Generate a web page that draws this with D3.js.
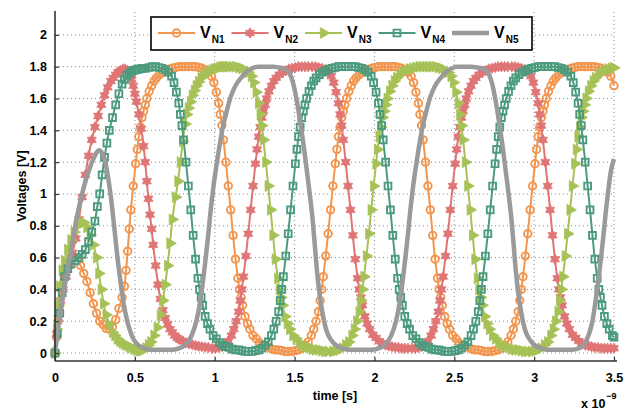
<!DOCTYPE html>
<html>
<head>
<meta charset="utf-8">
<script src="https://cdn.jsdelivr.net/npm/d3@7"></script>
<style>
  body { margin: 0; background: #fff; }
  svg text { font-family: "Liberation Sans", Arial, sans-serif; font-weight: bold; fill: #000; }
</style>
</head>
<body>
<svg id="chart" width="641" height="411"></svg>
<script>
// ring oscillator node voltages, time in ns, voltage in V

const xTicks = [0, 0.5, 1, 1.5, 2, 2.5, 3, 3.5];
const yTicks = [0, 0.2, 0.4, 0.6, 0.8, 1, 1.2, 1.4, 1.6, 1.8, 2];
const seriesNames = ["N1", "N2", "N3", "N4", "N5"];

const vN1 = [
  [0,0],[0.01,0.1],[0.02,0.2],[0.03,0.3],[0.045,0.42],[0.06,0.5],[0.08,0.56],[0.1,0.6],[0.12,0.6],[0.14,0.58],
  [0.16,0.55],[0.18,0.5],[0.2,0.45],[0.22,0.38],[0.24,0.31],[0.26,0.25],[0.28,0.2],[0.3,0.18],[0.32,0.155],[0.34,0.15],
  [0.36,0.165],[0.38,0.21],[0.4,0.28],[0.42,0.35],[0.435,0.42],[0.445,0.52],[0.455,0.64],[0.465,0.78],[0.475,0.9],
  [0.49,1.05],[0.505,1.19],[0.515,1.28],[0.525,1.36],[0.535,1.42],[0.545,1.48],[0.555,1.52],[0.565,1.56],[0.575,1.6],
  [0.59,1.645],[0.605,1.68],[0.62,1.71],[0.635,1.73],[0.655,1.75],[0.675,1.765],[0.695,1.775],[0.715,1.785],[0.735,1.79],
  [0.755,1.795],[0.775,1.8],[0.795,1.8],[0.815,1.8],[0.835,1.8],
  [0.86,1.8],[0.88,1.8],[0.9,1.795],[0.92,1.79],[0.94,1.78],[0.96,1.765],[0.98,1.74],[0.995,1.7],[1.01,1.64],[1.025,1.57],
  [1.035,1.5],[1.045,1.43],[1.055,1.34],[1.07,1.2],[1.085,1.05],[1.1,0.9],[1.115,0.74],[1.13,0.59],[1.145,0.47],[1.155,0.4],
  [1.165,0.35],[1.175,0.3],[1.19,0.23],[1.205,0.185],[1.22,0.15],[1.24,0.11],[1.26,0.09],[1.28,0.065],[1.3,0.05],[1.32,0.04],
  [1.34,0.035],[1.36,0.025],[1.38,0.02],[1.4,0.02],[1.42,0.015],[1.44,0.01],[1.46,0.01],
  [1.485,0.01],[1.505,0.015],[1.525,0.02],[1.545,0.03],[1.565,0.05],[1.585,0.07],[1.605,0.11],[1.62,0.15],[1.635,0.2],
  [1.65,0.26],[1.66,0.33],[1.67,0.4],[1.68,0.48],[1.695,0.61],[1.71,0.75],[1.725,0.9],[1.74,1.05],[1.755,1.19],[1.765,1.28],
  [1.775,1.36],[1.785,1.42],[1.795,1.48],[1.805,1.52],[1.815,1.56],[1.825,1.6],[1.84,1.645],[1.855,1.68],[1.87,1.71],
  [1.885,1.73],[1.905,1.75],[1.925,1.765],[1.945,1.775],[1.965,1.785],[1.985,1.79],[2.005,1.795],[2.025,1.8],[2.045,1.8],
  [2.065,1.8],[2.085,1.8],
  [2.11,1.8],[2.13,1.8],[2.15,1.795],[2.17,1.79],[2.19,1.78],[2.21,1.765],[2.23,1.74],[2.245,1.7],[2.26,1.64],[2.275,1.57],
  [2.285,1.5],[2.295,1.43],[2.305,1.34],[2.32,1.2],[2.335,1.05],[2.35,0.9],[2.365,0.74],[2.38,0.59],[2.395,0.47],[2.405,0.4],
  [2.415,0.35],[2.425,0.3],[2.44,0.23],[2.455,0.185],[2.47,0.15],[2.49,0.11],[2.51,0.09],[2.53,0.065],[2.55,0.05],[2.57,0.04],
  [2.59,0.035],[2.61,0.025],[2.63,0.02],[2.65,0.02],[2.67,0.015],[2.69,0.01],[2.71,0.01],
  [2.735,0.01],[2.755,0.015],[2.775,0.02],[2.795,0.03],[2.815,0.05],[2.835,0.07],[2.855,0.11],[2.87,0.15],[2.885,0.2],
  [2.9,0.26],[2.91,0.33],[2.92,0.4],[2.93,0.48],[2.945,0.61],[2.96,0.75],[2.975,0.9],[2.99,1.05],[3.005,1.19],[3.015,1.28],
  [3.025,1.36],[3.035,1.42],[3.045,1.48],[3.055,1.52],[3.065,1.56],[3.075,1.6],[3.09,1.645],[3.105,1.68],[3.12,1.71],
  [3.135,1.73],[3.155,1.75],[3.175,1.765],[3.195,1.775],[3.215,1.785],[3.235,1.79],[3.255,1.795],[3.275,1.8],[3.295,1.8],
  [3.315,1.8],[3.335,1.8],
  [3.36,1.8],[3.38,1.8],[3.4,1.795],[3.42,1.79],[3.44,1.78],[3.46,1.765],[3.48,1.74],[3.5,1.68]
];

const vN2 = [
  [0,0],[0.01,0.12],[0.02,0.22],[0.035,0.33],[0.05,0.4],[0.07,0.48],[0.09,0.55],[0.11,0.63],[0.13,0.72],[0.15,0.84],
  [0.17,0.98],[0.19,1.12],[0.21,1.24],[0.23,1.34],[0.25,1.42],[0.27,1.49],[0.29,1.56],[0.31,1.62],[0.33,1.67],[0.35,1.71],
  [0.365,1.73],[0.38,1.75],[0.395,1.765],[0.41,1.775],[0.425,1.785],[0.44,1.785],[0.455,1.775],[0.47,1.75],[0.48,1.72],
  [0.49,1.68],[0.5,1.63],[0.51,1.58],[0.525,1.5],[0.54,1.41],[0.555,1.3],[0.565,1.2],[0.575,1.08],[0.585,0.97],[0.595,0.87],
  [0.605,0.78],[0.615,0.68],[0.63,0.55],[0.645,0.43],[0.66,0.34],[0.675,0.27],[0.69,0.22],[0.705,0.18],[0.72,0.15],
  [0.735,0.13],[0.75,0.11],[0.765,0.095],[0.78,0.085],[0.8,0.075],[0.82,0.065],[0.84,0.058],[0.86,0.052],[0.88,0.047],
  [0.9,0.043],[0.92,0.04],[0.94,0.037],[0.96,0.035],
  [0.985,0.03],[1.005,0.03],[1.025,0.035],[1.045,0.04],[1.065,0.055],[1.085,0.075],[1.105,0.11],[1.12,0.15],[1.135,0.2],
  [1.15,0.26],[1.16,0.33],[1.17,0.4],[1.18,0.48],[1.195,0.61],[1.21,0.75],[1.225,0.9],[1.24,1.05],[1.255,1.19],[1.265,1.28],
  [1.275,1.36],[1.285,1.42],[1.295,1.48],[1.305,1.52],[1.315,1.56],[1.325,1.6],[1.34,1.645],[1.355,1.68],[1.37,1.71],
  [1.385,1.73],[1.405,1.75],[1.425,1.765],[1.445,1.775],[1.465,1.785],[1.485,1.79],[1.505,1.795],[1.525,1.8],[1.545,1.8],
  [1.565,1.8],[1.585,1.8],
  [1.61,1.8],[1.63,1.8],[1.65,1.795],[1.67,1.79],[1.69,1.78],[1.71,1.765],[1.73,1.74],[1.745,1.7],[1.76,1.64],[1.775,1.57],
  [1.785,1.5],[1.795,1.43],[1.805,1.34],[1.82,1.2],[1.835,1.05],[1.85,0.9],[1.865,0.74],[1.88,0.59],[1.895,0.47],[1.905,0.4],
  [1.915,0.35],[1.925,0.3],[1.94,0.23],[1.955,0.185],[1.97,0.15],[1.99,0.115],[2.01,0.095],[2.03,0.075],[2.05,0.06],
  [2.07,0.05],[2.09,0.045],[2.11,0.04],[2.13,0.035],[2.15,0.035],[2.17,0.03],[2.19,0.03],[2.21,0.03],
  [2.235,0.03],[2.255,0.03],[2.275,0.035],[2.295,0.04],[2.315,0.055],[2.335,0.075],[2.355,0.11],[2.37,0.15],[2.385,0.2],
  [2.4,0.26],[2.41,0.33],[2.42,0.4],[2.43,0.48],[2.445,0.61],[2.46,0.75],[2.475,0.9],[2.49,1.05],[2.505,1.19],[2.515,1.28],
  [2.525,1.36],[2.535,1.42],[2.545,1.48],[2.555,1.52],[2.565,1.56],[2.575,1.6],[2.59,1.645],[2.605,1.68],[2.62,1.71],
  [2.635,1.73],[2.655,1.75],[2.675,1.765],[2.695,1.775],[2.715,1.785],[2.735,1.79],[2.755,1.795],[2.775,1.8],[2.795,1.8],
  [2.815,1.8],[2.835,1.8],
  [2.86,1.8],[2.88,1.8],[2.9,1.795],[2.92,1.79],[2.94,1.78],[2.96,1.765],[2.98,1.74],[2.995,1.7],[3.01,1.64],[3.025,1.57],
  [3.035,1.5],[3.045,1.43],[3.055,1.34],[3.07,1.2],[3.085,1.05],[3.1,0.9],[3.115,0.74],[3.13,0.59],[3.145,0.47],[3.155,0.4],
  [3.165,0.35],[3.175,0.3],[3.19,0.23],[3.205,0.185],[3.22,0.15],[3.24,0.115],[3.26,0.095],[3.28,0.075],[3.3,0.06],
  [3.32,0.05],[3.34,0.045],[3.36,0.04],[3.38,0.035],[3.4,0.035],[3.42,0.03],[3.44,0.03],[3.46,0.03],[3.48,0.03],[3.5,0.03]
];

const vN3 = [
  [0,0],[0.01,0.15],[0.02,0.3],[0.03,0.42],[0.045,0.52],[0.06,0.58],[0.08,0.65],[0.1,0.71],[0.12,0.76],[0.14,0.8],
  [0.16,0.82],[0.18,0.82],[0.2,0.79],[0.22,0.74],[0.24,0.68],[0.26,0.6],[0.275,0.5],[0.29,0.4],[0.305,0.31],[0.32,0.24],
  [0.34,0.18],[0.36,0.13],[0.375,0.11],[0.39,0.09],[0.405,0.075],[0.42,0.065],[0.435,0.055],[0.45,0.05],[0.465,0.04],
  [0.48,0.035],[0.495,0.025],[0.51,0.02],[0.525,0.015],[0.54,0.015],[0.555,0.02],[0.57,0.03],[0.585,0.05],[0.6,0.07],
  [0.62,0.11],[0.64,0.16],[0.66,0.24],[0.675,0.33],[0.69,0.43],[0.705,0.55],[0.72,0.69],[0.735,0.84],[0.755,0.98],
  [0.77,1.08],[0.785,1.2],[0.8,1.33],[0.815,1.44],[0.825,1.5],[0.835,1.54],[0.848,1.58],[0.86,1.62],[0.873,1.65],
  [0.885,1.68],[0.9,1.705],[0.915,1.73],[0.93,1.745],[0.95,1.76],[0.97,1.772],[0.985,1.78],[1.0,1.785],[1.015,1.79],
  [1.03,1.795],[1.045,1.8],[1.06,1.8],[1.075,1.8],[1.09,1.8],
  [1.11,1.8],[1.13,1.8],[1.15,1.795],[1.17,1.79],[1.19,1.78],[1.21,1.765],[1.23,1.74],[1.245,1.7],[1.26,1.64],[1.275,1.57],
  [1.285,1.5],[1.295,1.43],[1.305,1.34],[1.32,1.2],[1.335,1.05],[1.35,0.9],[1.365,0.74],[1.38,0.59],[1.395,0.47],[1.405,0.4],
  [1.415,0.35],[1.425,0.3],[1.44,0.23],[1.455,0.185],[1.47,0.15],[1.49,0.11],[1.51,0.09],[1.53,0.065],[1.55,0.05],[1.57,0.04],
  [1.59,0.035],[1.61,0.025],[1.63,0.02],[1.65,0.02],[1.67,0.015],[1.69,0.01],[1.71,0.01],
  [1.74,0.01],[1.76,0.015],[1.78,0.02],[1.8,0.03],[1.82,0.05],[1.84,0.07],[1.86,0.11],[1.875,0.15],[1.89,0.2],[1.905,0.26],
  [1.915,0.33],[1.925,0.4],[1.935,0.48],[1.95,0.61],[1.965,0.75],[1.98,0.9],[1.995,1.05],[2.01,1.19],[2.02,1.28],[2.03,1.36],
  [2.04,1.42],[2.05,1.48],[2.06,1.52],[2.07,1.56],[2.08,1.6],[2.095,1.645],[2.11,1.68],[2.125,1.71],[2.14,1.73],[2.16,1.75],
  [2.18,1.765],[2.2,1.775],[2.22,1.785],[2.24,1.79],[2.26,1.795],[2.28,1.8],[2.3,1.8],[2.32,1.8],[2.34,1.8],
  [2.36,1.8],[2.38,1.8],[2.4,1.795],[2.42,1.79],[2.44,1.78],[2.46,1.765],[2.48,1.74],[2.495,1.7],[2.51,1.64],[2.525,1.57],
  [2.535,1.5],[2.545,1.43],[2.555,1.34],[2.57,1.2],[2.585,1.05],[2.6,0.9],[2.615,0.74],[2.63,0.59],[2.645,0.47],[2.655,0.4],
  [2.665,0.35],[2.675,0.3],[2.69,0.23],[2.705,0.185],[2.72,0.15],[2.74,0.11],[2.76,0.09],[2.78,0.065],[2.8,0.05],[2.82,0.04],
  [2.84,0.035],[2.86,0.025],[2.88,0.02],[2.9,0.02],[2.92,0.015],[2.94,0.01],[2.96,0.01],
  [2.985,0.01],[3.005,0.015],[3.025,0.02],[3.045,0.03],[3.065,0.05],[3.085,0.07],[3.105,0.11],[3.12,0.15],[3.135,0.2],
  [3.15,0.26],[3.16,0.33],[3.17,0.4],[3.18,0.48],[3.195,0.61],[3.21,0.75],[3.225,0.9],[3.24,1.05],[3.255,1.19],[3.265,1.28],
  [3.275,1.36],[3.285,1.42],[3.295,1.48],[3.305,1.52],[3.315,1.56],[3.325,1.6],[3.34,1.645],[3.355,1.68],[3.37,1.71],
  [3.385,1.73],[3.405,1.75],[3.425,1.765],[3.445,1.775],[3.465,1.785],[3.485,1.79],[3.5,1.793]
];

const vN4 = [
  [0,0],[0.015,0.12],[0.03,0.25],[0.045,0.38],[0.06,0.48],[0.08,0.53],[0.1,0.56],[0.125,0.58],[0.15,0.6],[0.17,0.62],
  [0.19,0.65],[0.21,0.7],[0.23,0.76],[0.25,0.83],[0.265,0.92],[0.28,1.0],[0.295,1.12],[0.31,1.23],[0.325,1.32],
  [0.34,1.4],[0.36,1.48],[0.38,1.56],[0.4,1.63],[0.42,1.69],[0.435,1.72],[0.45,1.745],[0.465,1.76],[0.48,1.77],
  [0.495,1.777],[0.51,1.782],[0.525,1.785],[0.54,1.788],[0.555,1.79],[0.57,1.79],[0.59,1.795],
  [0.61,1.8],[0.63,1.8],[0.65,1.795],[0.67,1.79],[0.69,1.78],[0.71,1.765],[0.73,1.74],[0.745,1.7],[0.76,1.64],[0.775,1.57],
  [0.785,1.5],[0.795,1.43],[0.805,1.34],[0.82,1.2],[0.835,1.05],[0.85,0.9],[0.865,0.74],[0.88,0.59],[0.895,0.47],[0.905,0.4],
  [0.915,0.35],[0.925,0.3],[0.94,0.23],[0.955,0.185],[0.97,0.15],[0.99,0.11],[1.01,0.09],[1.03,0.065],[1.05,0.05],[1.07,0.04],
  [1.09,0.035],[1.11,0.025],[1.13,0.02],[1.15,0.02],[1.17,0.015],[1.19,0.01],[1.21,0.01],
  [1.235,0.01],[1.255,0.015],[1.275,0.02],[1.295,0.03],[1.315,0.05],[1.335,0.07],[1.355,0.11],[1.37,0.15],[1.385,0.2],
  [1.4,0.26],[1.41,0.33],[1.42,0.4],[1.43,0.48],[1.445,0.61],[1.46,0.75],[1.475,0.9],[1.49,1.05],[1.505,1.19],[1.515,1.28],
  [1.525,1.36],[1.535,1.42],[1.545,1.48],[1.555,1.52],[1.565,1.56],[1.575,1.6],[1.59,1.645],[1.605,1.68],[1.62,1.71],
  [1.635,1.73],[1.655,1.75],[1.675,1.765],[1.695,1.775],[1.715,1.785],[1.735,1.79],[1.755,1.795],[1.775,1.8],[1.795,1.8],
  [1.815,1.8],[1.835,1.8],
  [1.86,1.8],[1.88,1.8],[1.9,1.795],[1.92,1.79],[1.94,1.78],[1.96,1.765],[1.98,1.74],[1.995,1.7],[2.01,1.64],[2.025,1.57],
  [2.035,1.5],[2.045,1.43],[2.055,1.34],[2.07,1.2],[2.085,1.05],[2.1,0.9],[2.115,0.74],[2.13,0.59],[2.145,0.47],[2.155,0.4],
  [2.165,0.35],[2.175,0.3],[2.19,0.23],[2.205,0.185],[2.22,0.15],[2.24,0.11],[2.26,0.09],[2.28,0.065],[2.3,0.05],[2.32,0.04],
  [2.34,0.035],[2.36,0.025],[2.38,0.02],[2.4,0.02],[2.42,0.015],[2.44,0.01],[2.46,0.01],
  [2.485,0.01],[2.505,0.015],[2.525,0.02],[2.545,0.03],[2.565,0.05],[2.585,0.07],[2.605,0.11],[2.62,0.15],[2.635,0.2],
  [2.65,0.26],[2.66,0.33],[2.67,0.4],[2.68,0.48],[2.695,0.61],[2.71,0.75],[2.725,0.9],[2.74,1.05],[2.755,1.19],[2.765,1.28],
  [2.775,1.36],[2.785,1.42],[2.795,1.48],[2.805,1.52],[2.815,1.56],[2.825,1.6],[2.84,1.645],[2.855,1.68],[2.87,1.71],
  [2.885,1.73],[2.905,1.75],[2.925,1.765],[2.945,1.775],[2.965,1.785],[2.985,1.79],[3.005,1.795],[3.025,1.8],[3.045,1.8],
  [3.065,1.8],[3.085,1.8],
  [3.11,1.8],[3.13,1.8],[3.15,1.795],[3.17,1.79],[3.19,1.78],[3.21,1.765],[3.23,1.74],[3.245,1.7],[3.26,1.64],[3.275,1.57],
  [3.285,1.5],[3.295,1.43],[3.305,1.34],[3.32,1.2],[3.335,1.05],[3.35,0.9],[3.365,0.74],[3.38,0.59],[3.395,0.47],[3.405,0.4],
  [3.415,0.35],[3.425,0.3],[3.44,0.23],[3.455,0.185],[3.47,0.15],[3.49,0.11],[3.5,0.1]
];

const vN5 = [
  [0,0],[0.02,0.16],[0.04,0.3],[0.06,0.42],[0.08,0.53],[0.1,0.64],[0.12,0.76],[0.14,0.87],[0.16,0.96],[0.18,1.04],
  [0.2,1.11],[0.22,1.17],[0.24,1.22],[0.26,1.26],[0.275,1.275],[0.29,1.265],[0.31,1.22],[0.33,1.12],[0.35,0.98],
  [0.37,0.8],[0.39,0.61],[0.41,0.45],[0.43,0.31],[0.45,0.21],[0.47,0.14],[0.49,0.09],[0.52,0.05],[0.56,0.03],
  [0.6,0.02],[0.65,0.02],[0.7,0.02],
  [0.735,0.02],[0.775,0.03],[0.815,0.05],[0.855,0.11],[0.885,0.2],[0.91,0.33],[0.93,0.48],[0.945,0.61],[0.96,0.75],
  [0.975,0.9],[0.99,1.03],[1.005,1.14],[1.025,1.27],[1.045,1.39],[1.07,1.5],[1.1,1.61],[1.13,1.68],[1.165,1.73],
  [1.2,1.77],[1.235,1.79],[1.27,1.8],[1.3,1.8],[1.34,1.8],
  [1.37,1.8],[1.4,1.795],[1.43,1.79],[1.46,1.77],[1.49,1.7],[1.515,1.58],[1.54,1.42],[1.56,1.28],[1.58,1.12],[1.595,1.0],
  [1.61,0.87],[1.625,0.7],[1.64,0.52],[1.655,0.38],[1.675,0.25],[1.7,0.14],[1.73,0.08],[1.765,0.045],[1.8,0.03],
  [1.84,0.02],[1.9,0.02],[1.96,0.02],
  [1.985,0.02],[2.025,0.03],[2.065,0.05],[2.105,0.11],[2.135,0.2],[2.16,0.33],[2.18,0.48],[2.195,0.61],[2.21,0.75],
  [2.225,0.9],[2.24,1.03],[2.255,1.14],[2.275,1.27],[2.295,1.39],[2.32,1.5],[2.35,1.61],[2.38,1.68],[2.415,1.73],
  [2.45,1.77],[2.485,1.79],[2.52,1.8],[2.55,1.8],[2.58,1.8],[2.61,1.8],
  [2.645,1.795],[2.675,1.79],[2.705,1.77],[2.735,1.7],[2.76,1.58],[2.785,1.42],[2.805,1.28],[2.825,1.12],[2.84,1.0],
  [2.855,0.87],[2.87,0.7],[2.885,0.52],[2.9,0.38],[2.92,0.25],[2.945,0.14],[2.975,0.08],[3.01,0.045],[3.045,0.03],
  [3.085,0.02],[3.15,0.02],[3.2,0.02],
  [3.24,0.02],[3.28,0.03],[3.31,0.05],[3.34,0.11],[3.365,0.2],[3.385,0.33],[3.405,0.48],[3.42,0.61],[3.435,0.75],
  [3.45,0.9],[3.465,1.03],[3.48,1.14],[3.5,1.22]
];

const seriesData = [vN1, vN2, vN3, vN4, vN5];
const seriesColors = ["#F2964F", "#E07575", "#A6C257", "#4C9B7E", "#9A9A9A"];
const seriesMarkers = ["circle", "hexagram", "triangleRight", "square", null];

const svg = d3.select("#chart");

const x = d3.scaleLinear().domain([0, 3.5]).range([55, 614]);
const y = d3.scaleLinear().domain([-0.05, 2.15]).range([361, 11]);

// six point star
const symbolHexagram = {
  draw(context, size) {
    const R = Math.sqrt(size / 1.3);
    const r = R / Math.sqrt(3);
    for (let i = 0; i < 12; i++) {
      const a = -Math.PI / 2 + i * Math.PI / 6;
      const rr = i % 2 === 0 ? R : r;
      const px = rr * Math.cos(a), py = rr * Math.sin(a);
      if (i === 0) context.moveTo(px, py); else context.lineTo(px, py);
    }
    context.closePath();
  }
};

function markerPath(kind) {
  if (kind === "circle") return d3.symbol(d3.symbolCircle, 44)();
  if (kind === "square") return d3.symbol(d3.symbolSquare, 46)();
  if (kind === "triangleRight") return d3.symbol(d3.symbolTriangle, 52)();
  if (kind === "hexagram") return d3.symbol(symbolHexagram, 36)();
  return null;
}

function markerStyle(sel, kind, color) {
  const open = kind === "circle" || kind === "square";
  sel.attr("d", markerPath(kind))
    .attr("fill", open ? "none" : color)
    .attr("stroke", color)
    .attr("stroke-width", open ? 1.9 : 0.8);
}

function markerTransform(kind, px, py) {
  return kind === "triangleRight"
    ? `translate(${px},${py}) rotate(90)`
    : `translate(${px},${py})`;
}

// grid
const grid = svg.append("g").attr("class", "grid");
grid.selectAll("line.vgrid")
  .data(xTicks.filter(d => d > 0))
  .join("line")
  .attr("x1", d => x(d)).attr("x2", d => x(d))
  .attr("y1", y.range()[0]).attr("y2", y.range()[1])
  .attr("stroke", "#8a8a8a").attr("stroke-width", 1)
  .attr("stroke-dasharray", "1,3");
grid.selectAll("line.hgrid")
  .data(yTicks)
  .join("line")
  .attr("x1", x(0)).attr("x2", x(3.5))
  .attr("y1", d => y(d)).attr("y2", d => y(d))
  .attr("stroke", "#8a8a8a").attr("stroke-width", 1)
  .attr("stroke-dasharray", "1,3");

// series
const line = d3.line()
  .x(d => x(d[0]))
  .y(d => y(d[1]))
  .curve(d3.curveMonotoneX);

const plot = svg.append("g").attr("class", "plot");

seriesData.forEach((data, i) => {
  const color = seriesColors[i];
  const kind = seriesMarkers[i];
  const g = plot.append("g").attr("class", `series-${seriesNames[i]}`);

  g.append("path")
    .datum(data)
    .attr("d", line)
    .attr("fill", "none")
    .attr("stroke", color)
    .attr("stroke-width", kind ? 2 : 4.5)
    .attr("stroke-linejoin", "round");

  if (kind) {
    g.selectAll("path.marker")
      .data(data)
      .join("path")
      .attr("class", "marker")
      .attr("transform", d => markerTransform(kind, x(d[0]), y(d[1])))
      .call(markerStyle, kind, color);
  }
});

// axes
const axisColor = "#333";
const xAxis = d3.axisBottom(x).tickValues(xTicks).tickSize(-4).tickPadding(12)
  .tickFormat(d3.format("~g"));
const yAxis = d3.axisLeft(y).tickValues(yTicks).tickSize(-4).tickPadding(8)
  .tickFormat(d3.format("~g"));

const gx = svg.append("g").attr("transform", `translate(0,${y.range()[0]})`).call(xAxis);
const gy = svg.append("g").attr("transform", `translate(${x(0)},0)`).call(yAxis);

[gx, gy].forEach(g => {
  g.select(".domain").attr("stroke", axisColor).attr("stroke-width", 1.6);
  g.selectAll(".tick line").attr("stroke", axisColor).attr("stroke-width", 1.2);
  g.selectAll(".tick text")
    .attr("fill", "#000")
    .style("font-family", "'Liberation Sans', Arial, sans-serif")
    .style("font-weight", "bold")
    .style("font-size", "12.5px");
});
gx.select(".domain").attr("d", `M${x(0)},0H${x(3.5) + 3}`);
gy.select(".domain").attr("d", `M0,${y.range()[0]}V${y.range()[1]}`);

// axis labels
svg.append("text")
  .attr("x", 335).attr("y", 400)
  .attr("text-anchor", "middle")
  .style("font-size", "12.5px")
  .text("time [s]");

svg.append("text")
  .attr("transform", "translate(26,186) rotate(-90)")
  .attr("text-anchor", "middle")
  .style("font-size", "12.5px")
  .text("Voltages [V]");

const expo = svg.append("text").attr("x", 581).attr("y", 408).style("font-size", "12.5px");
expo.append("tspan").text("x 10");
expo.append("tspan").attr("dy", -9).attr("dx", 1).style("font-size", "9px").text("\u22129");

// legend
const legend = svg.append("g").attr("class", "legend");
legend.append("rect")
  .attr("x", 151).attr("y", 17)
  .attr("width", 381).attr("height", 33)
  .attr("fill", "#fff")
  .attr("stroke", "#000")
  .attr("stroke-width", 1.6);

const legendStep = 73.5;
seriesNames.forEach((name, i) => {
  const color = seriesColors[i];
  const kind = seriesMarkers[i];
  const lx = 158 + i * legendStep;
  const g = legend.append("g").attr("transform", `translate(${lx},33)`);
  g.append("line")
    .attr("x1", 0).attr("x2", 37)
    .attr("y1", 0).attr("y2", 0)
    .attr("stroke", color)
    .attr("stroke-width", kind ? 2 : 4.5);
  if (kind) {
    g.append("path")
      .attr("transform", markerTransform(kind, 18.5, 0))
      .call(markerStyle, kind, color);
  }
  const t = g.append("text").attr("x", 42).attr("y", 5).style("font-size", "16px");
  t.append("tspan").text("V");
  t.append("tspan").attr("dy", 5).attr("dx", 1).style("font-size", "10px").text(name);
});
</script>
</body>
</html>
